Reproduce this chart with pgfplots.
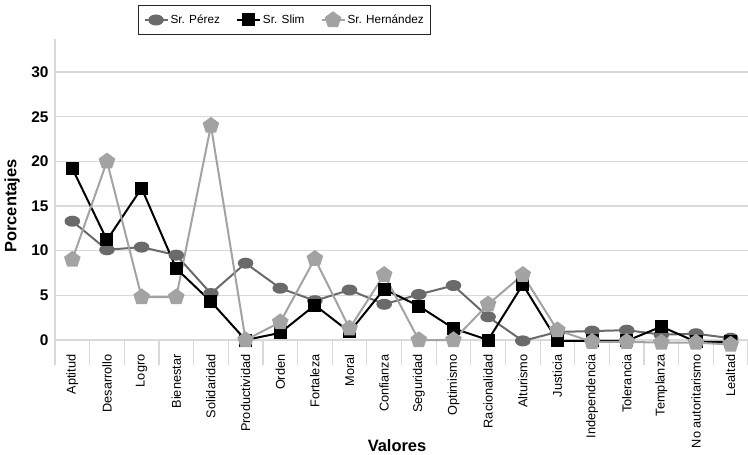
\documentclass[border=0pt]{standalone}
\usepackage{fontspec}
\setmainfont{Liberation Sans}
\usepackage{pgfplots}
\usepackage{pgfplotstable}
\pgfplotsset{compat=1.18}
\usetikzlibrary{plotmarks}
\definecolor{gridc}{HTML}{D9D9D9}
\definecolor{perez}{HTML}{6A6A6A}
\definecolor{hern}{HTML}{A3A3A3}

\pgfplotstableread{
x  p     s     h
0  13.3  19.2  9.0
1  10.1  11.2  20.0
2  10.4  17.0  4.8
3  9.5   8.0   4.8
4  5.2   4.3   24.0
5  8.6   0.0   0.0
6  5.8   0.8   2.0
7  4.4   3.9   9.1
8  5.6   0.9   1.3
9  4.0   5.7   7.3
10 5.1   3.8   0.0
11 6.1   1.3   0.0
12 2.6   0.0   4.0
13 -0.1  6.2   7.3
14 0.9   -0.1  1.1
15 1.0   -0.1  -0.2
16 1.1   -0.1  -0.2
17 0.6   1.5   -0.3
18 0.7   -0.2  -0.3
19 0.2   -0.2  -0.5
}\datatable

\begin{document}
\begin{tikzpicture}
\path[use as bounding box] (-55bp,-115bp) rectangle (693bp,340bp);
\begin{axis}[
  scale only axis, width=693bp, height=301bp,
  xmin=-0.5, xmax=19.5, ymin=0, ymax=33.7,
  clip=false,
  axis x line*=bottom, axis y line*=left,
  axis line style={draw=gridc, line width=1.2bp},
  tick align=outside,
  major tick length=0pt,
  xtick={0,...,19},
  xticklabels={Aptitud,Desarrollo,Logro,Bienestar,Solidaridad,Productividad,Orden,Fortaleza,Moral,Confianza,Seguridad,Optimismo,Racionalidad,Alturismo,Justicia,Independencia,Tolerancia,Templanza,No autoritarismo,Lealtad},
  minor xtick={-0.5,0.5,...,19.5},
  minor tick length=25bp,
  minor tick style={draw=gridc, line width=1.2bp},
  xticklabel style={rotate=90, anchor=east, font=\fontsize{12.8}{12.8}\selectfont},
  xticklabel shift=11bp,
  ytick={0,5,...,30},
  /pgf/number format/assume math mode=true,
  yticklabel style={font=\fontsize{15.5}{15.5}\selectfont\bfseries},
  yticklabel shift=3bp,
  ymajorgrids,
  grid style={draw=gridc, line width=1.2bp},
  ylabel={Porcentajes},
  ylabel style={at={(axis description cs:-0.062,0.445)}, anchor=center, font=\fontsize{16.5}{16.5}\selectfont\bfseries},
  xlabel={Valores},
  xlabel style={at={(axis description cs:0.4935,0)}, anchor=center, yshift=-106bp, font=\fontsize{16.5}{16.5}\selectfont\bfseries},
  legend style={at={(rel axis cs:0.1198,1.113)}, anchor=north west, draw=black!85, line width=1bp,
    font=\fontsize{11.8}{14}\selectfont, inner xsep=5bp, inner ysep=7bp,
    /tikz/every even column/.append style={column sep=14bp}},
  legend columns=3,
  legend image code/.code={\draw[mark repeat=2, mark phase=2] plot coordinates {(0bp,0bp)(11.5bp,0bp)(23bp,0bp)};},
]
\addplot[perez, line width=2bp, mark=*, mark size=4.5bp, mark options={xscale=1.5, fill=perez, draw=perez}] table[x=x,y=p]{\datatable};
\addlegendentry{Sr. Pérez}
\addplot[black, line width=2bp, mark=square*, mark size=5.5bp, mark options={fill=black, draw=black}] table[x=x,y=s]{\datatable};
\addlegendentry{Sr. Slim}
\addplot[hern, line width=2bp, mark=pentagon*, mark size=7.5bp, mark options={fill=hern, draw=hern}] table[x=x,y=h]{\datatable};
\addlegendentry{Sr. Hernández}
\end{axis}
\end{tikzpicture}
\end{document}
